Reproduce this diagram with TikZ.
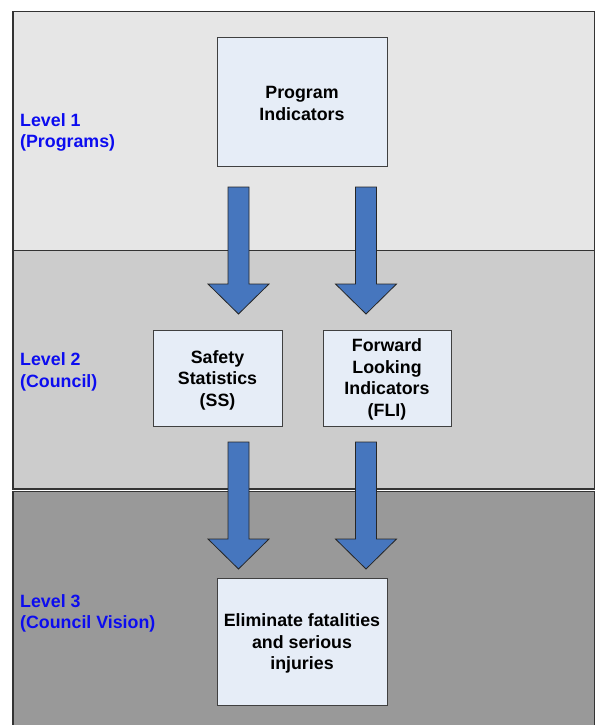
\documentclass[tikz,border=0pt]{standalone}
\usepackage{fontspec}
\setmainfont{Liberation Sans}
\usetikzlibrary{calc}

\definecolor{bandA}{HTML}{E6E6E6}
\definecolor{bandB}{HTML}{CCCCCC}
\definecolor{bandC}{HTML}{999999}
\definecolor{boxfill}{HTML}{E6EDF7}
\definecolor{arrowblue}{HTML}{4676BE}
\definecolor{levelblue}{RGB}{12,12,240}

\tikzset{
  band/.style={draw=black!80, line width=1.2bp},
  box/.style={draw=black!75, fill=boxfill, line width=1bp},
  boxtext/.style={inner sep=0pt, anchor=north, align=center, font=\bfseries\fontsize{17.8bp}{21.7bp}\selectfont},
  leveltext/.style={inner sep=0pt, anchor=north west, align=left, text=levelblue, font=\bfseries\fontsize{17.8bp}{21.7bp}\selectfont},
  arrowshape/.style={draw=black!85, fill=arrowblue, line width=0.8bp, line join=miter},
}

% block arrow pointing down: #1 = top of the shaft, #2 = tip
\newcommand{\blockdown}[2]{%
  \draw[arrowshape] ($(#1)+(-10.5,0)$) -- ($(#1)+(10.5,0)$)
    -- ($(#2)+(10.5,-30)$) -- ($(#2)+(30.5,-30)$) -- (#2)
    -- ($(#2)+(-30.5,-30)$) -- ($(#2)+(-10.5,-30)$) -- cycle;}

\begin{document}
\begin{tikzpicture}[x=1bp, y=-1bp]
  \useasboundingbox (0,0) rectangle (595,725);
  \begin{scope}
    \clip (0,0) rectangle (595,725);
    % level bands
    \draw[band, fill=bandA] (13,11.5) rectangle (595,250.5);
    \draw[band, fill=bandB] (13,250.5) rectangle (595,489);
    \draw[band, fill=bandC] (13,491.5) rectangle (595,740);
  \end{scope}

  % level labels
  \node[leveltext] (lvl1) at (20,113) {Level 1\\(Programs)};
  \node[leveltext] (lvl2) at (20,352.7) {Level 2\\(Council)};
  \node[leveltext] (lvl3) at (20,594) {Level 3\\(Council Vision)};

  % indicator boxes
  \draw[box] (217,38) rectangle (387,166);
  \node[boxtext] (prog) at (302,86) {Program\\Indicators};

  \draw[box] (153,330) rectangle (282,426);
  \node[boxtext] (ss) at (217.5,350) {Safety\\Statistics\\(SS)};

  \draw[box] (323,330) rectangle (451,426);
  \node[boxtext] (fli) at (387,338.3) {Forward\\Looking\\Indicators\\(FLI)};

  \draw[box] (217,578) rectangle (387,705);
  \node[boxtext] (vision) at (302,613.3) {Eliminate fatalities\\and serious\\injuries};

  % arrow end points
  \coordinate (a1s) at (238.5,187);  \coordinate (a1t) at (238.5,314);
  \coordinate (a2s) at (366,187);    \coordinate (a2t) at (366,314);
  \coordinate (a3s) at (238.5,442);  \coordinate (a3t) at (238.5,569);
  \coordinate (a4s) at (366,442);    \coordinate (a4t) at (366,569);

  \blockdown{a1s}{a1t}
  \blockdown{a2s}{a2t}
  \blockdown{a3s}{a3t}
  \blockdown{a4s}{a4t}
\end{tikzpicture}
\end{document}
